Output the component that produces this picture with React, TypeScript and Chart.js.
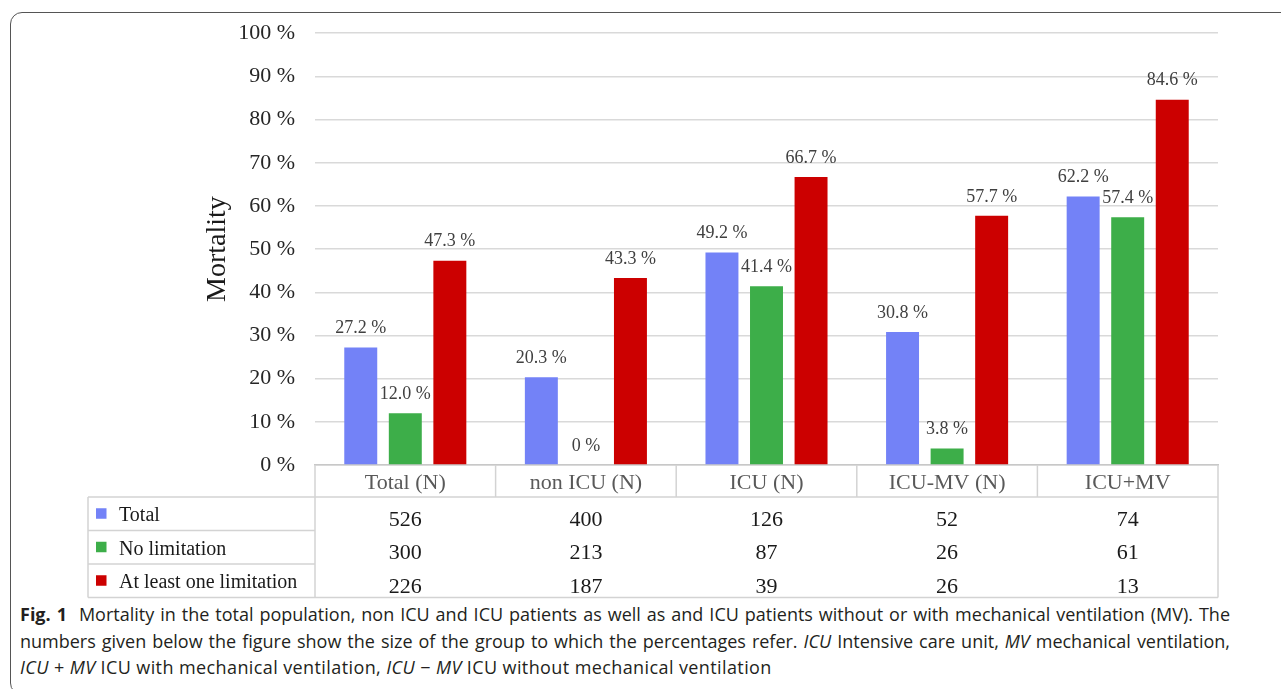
import React, { useEffect, useRef } from "react";
import { Chart, registerables } from "chart.js";

Chart.register(...registerables);

const categories = ["Total (N)", "non ICU (N)", "ICU (N)", "ICU-MV (N)", "ICU+MV"];
const seriesNames = ["Total", "No limitation", "At least one limitation"];
const totalMortality = [27.2, 20.3, 49.2, 30.8, 62.2];
const noLimitationMortality = [12.0, 0, 41.4, 3.8, 57.4];
const limitationMortality = [47.3, 43.3, 66.7, 57.7, 84.6];
const totalN = [526, 400, 126, 52, 74];
const noLimitationN = [300, 213, 87, 26, 61];
const limitationN = [226, 187, 39, 26, 13];
const seriesColors = ["#7382F7", "#3DAE49", "#CC0000"];
const yAxisTitle = "Mortality";

const SERIF = "'Liberation Serif', 'Times New Roman', serif";

const fmtPct = (v: number) => (v === 0 ? "0 %" : v.toFixed(1) + " %");

const valueLabelPlugin = {
  id: "valueLabels",
  afterDatasetsDraw(chart: any) {
    const ctx = chart.ctx;
    ctx.save();
    ctx.font = `18px ${SERIF}`;
    ctx.fillStyle = "#404040";
    ctx.textAlign = "center";
    ctx.textBaseline = "middle";
    chart.data.datasets.forEach((ds: any, di: number) => {
      const meta = chart.getDatasetMeta(di);
      meta.data.forEach((el: any, i: number) => {
        ctx.fillText(fmtPct(ds.data[i]), el.x, el.y - 19);
      });
    });
    ctx.restore();
  },
};

const tablePlugin = {
  id: "dataTable",
  afterDraw(chart: any) {
    const ctx = chart.ctx;
    const area = chart.chartArea;
    const xs = chart.scales.x;
    const n = categories.length;
    const cw = (area.right - area.left) / n;
    const headerBottom = area.bottom + 32;
    const rowH = 33.5;
    const legendLeft = 88;
    const tableBottom = headerBottom + rowH * 3;
    const counts = [totalN, noLimitationN, limitationN];

    ctx.save();
    ctx.strokeStyle = "#d3d3d3";
    ctx.lineWidth = 1.5;
    const line = (x1: number, y1: number, x2: number, y2: number) => {
      ctx.beginPath();
      ctx.moveTo(x1, y1);
      ctx.lineTo(x2, y2);
      ctx.stroke();
    };
    for (let i = 1; i < n; i++) {
      const x = area.left + cw * i;
      line(x, area.bottom, x, headerBottom);
    }
    line(area.left, area.bottom, area.left, tableBottom);
    line(area.right, area.bottom, area.right, tableBottom);
    line(legendLeft, headerBottom, area.right, headerBottom);
    line(legendLeft, headerBottom, legendLeft, tableBottom);
    for (let r = 1; r < 3; r++) {
      const y = headerBottom + rowH * r;
      line(legendLeft, y, area.left, y);
    }
    line(legendLeft, tableBottom, area.right, tableBottom);

    for (let r = 0; r < 3; r++) {
      const cy = headerBottom + rowH * r + rowH / 2;
      ctx.fillStyle = seriesColors[r];
      ctx.fillRect(96, cy - 5.5, 10.5, 10.5);
      ctx.fillStyle = "#1a1a1a";
      ctx.font = `20px ${SERIF}`;
      ctx.textAlign = "left";
      ctx.textBaseline = "middle";
      ctx.fillText(seriesNames[r], 119, cy + 2);
      ctx.font = `22px ${SERIF}`;
      ctx.textAlign = "center";
      for (let i = 0; i < n; i++) {
        const x = xs.getPixelForValue(i);
        ctx.fillText(String(counts[r][i]), x, cy + 6);
      }
    }
    ctx.restore();
  },
};

function ChartCanvas() {
  const ref = useRef<HTMLCanvasElement | null>(null);
  useEffect(() => {
    if (!ref.current) return;
    const chart = new Chart(ref.current, {
      type: "bar",
      data: {
        labels: categories,
        datasets: [
          { label: seriesNames[0], data: totalMortality, backgroundColor: seriesColors[0] },
          { label: seriesNames[1], data: noLimitationMortality, backgroundColor: seriesColors[1] },
          { label: seriesNames[2], data: limitationMortality, backgroundColor: seriesColors[2] },
        ],
      },
      options: {
        animation: false,
        responsive: false,
        devicePixelRatio: 1,
        layout: { padding: { left: 197, top: 33, right: 63, bottom: 0 } },
        datasets: { bar: { categoryPercentage: 0.74, barPercentage: 0.74 } },
        plugins: { legend: { display: false }, tooltip: { enabled: false } },
        scales: {
          x: {
            grid: { display: false },
            border: { display: true, color: "#c8c8c8", width: 1.5 },
            ticks: { font: { family: SERIF, size: 22 }, color: "#595959", padding: -3 },
            afterFit: (s: any) => { s.height = 135; },
          },
          y: {
            min: 0,
            max: 100,
            ticks: {
              stepSize: 10,
              callback: (v: any) => v + " %",
              font: { family: SERIF, size: 22 },
              color: "#262626",
              padding: 20,
            },
            grid: { color: "#d9d9d9", lineWidth: 1.5, drawTicks: false },
            border: { display: false },
            title: {
              display: true,
              text: yAxisTitle,
              font: { family: SERIF, size: 28 },
              color: "#1a1a1a",
              padding: { top: 4, bottom: 0 },
            },
            afterFit: (s: any) => { s.width = 118; },
          },
        },
      },
      plugins: [valueLabelPlugin, tablePlugin],
    } as any);
    return () => chart.destroy();
  }, []);
  return (
    <canvas
      ref={ref}
      width={1281}
      height={600}
      style={{ position: "absolute", left: 0, top: 0, width: 1281, height: 600 }}
    />
  );
}

const SANS = "'Open Sans', 'Noto Sans', sans-serif";

export default function App() {
  const lineStyle: React.CSSProperties = {
    whiteSpace: "nowrap",
    textAlign: "justify",
    textAlignLast: "justify" as any,
    width: 1210,
    height: 26.5,
  };
  return (
    <div
      style={{
        position: "absolute",
        left: 0,
        top: 0,
        width: 1281,
        height: 689,
        overflow: "hidden",
        background: "#fff",
      }}
    >
      <div
        style={{
          position: "absolute",
          left: 10,
          top: 12,
          width: 1300,
          height: 683,
          border: "1.5px solid #555",
          borderRadius: 12,
          boxSizing: "border-box",
        }}
      />
      <ChartCanvas />
      <div
        style={{
          position: "absolute",
          left: 20,
          top: 601,
          fontFamily: SANS,
          fontSize: 18,
          lineHeight: "26.5px",
          color: "#231f20",
        }}
      >
        <div style={lineStyle}>
          <b style={{ marginRight: 6 }}>Fig. 1</b> Mortality in the total population, non ICU and ICU patients as well as and ICU patients without or with mechanical ventilation (MV). The
        </div>
        <div style={lineStyle}>
          numbers given below the figure show the size of the group to which the percentages refer. <i>ICU</i> Intensive care unit, <i>MV</i> mechanical ventilation,
        </div>
        <div style={{ whiteSpace: "nowrap", height: 26.5, letterSpacing: "0.4px" }}>
          <i>ICU</i> + <i>MV</i> ICU with mechanical ventilation, <i>ICU</i> − <i>MV</i> ICU without mechanical ventilation
        </div>
      </div>
    </div>
  );
}
